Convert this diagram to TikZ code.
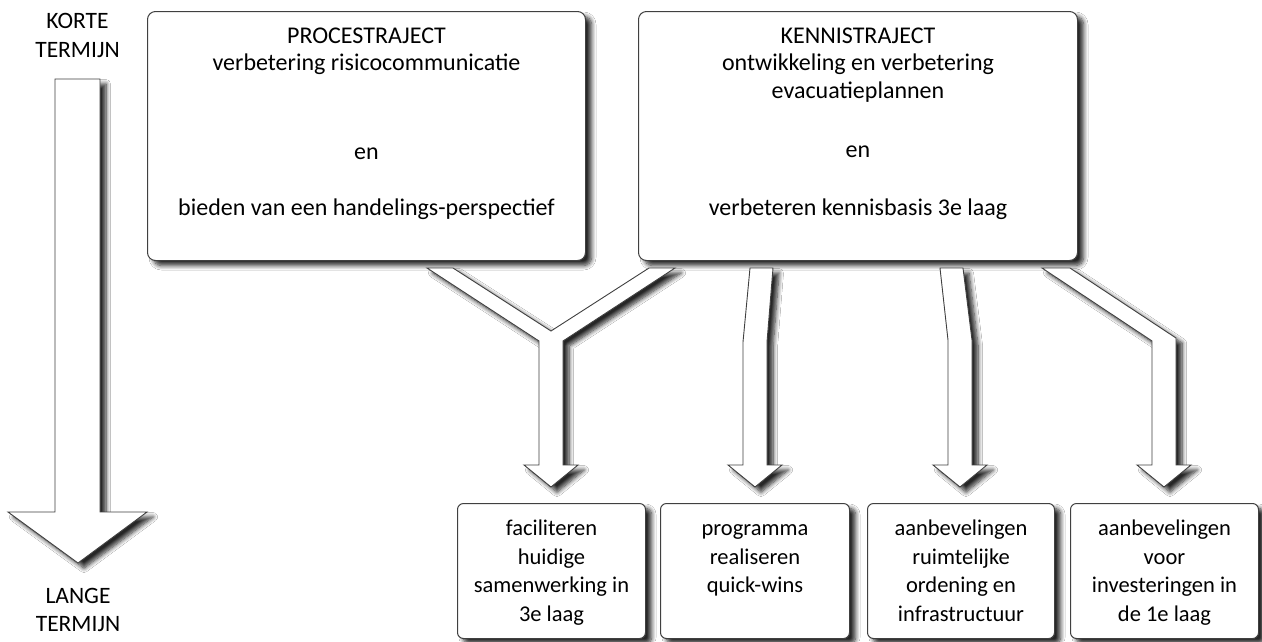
\documentclass[tikz,border=0pt]{standalone}
\usepackage{fontspec}
\setmainfont{Carlito}
\usetikzlibrary{shadows.blur}
\tikzset{
  shad/.style={blur shadow={shadow xshift=6pt, shadow yshift=-5pt, shadow blur radius=4.5pt, shadow blur steps=8, shadow opacity=85}},
  bigbox/.style={draw=black!75, line width=1pt, fill=white, rounded corners=8pt, shad, inner sep=0pt, anchor=north west},
  smallbox/.style={draw=black!75, line width=1pt, fill=white, rounded corners=6pt, shad, inner sep=0pt, anchor=north west},
  blockarrow/.style={draw=black!75, line width=0.9pt, fill=white, shad, line join=miter},
  lbl/.style={font=\fontsize{23.5}{29}\selectfont, inner sep=0pt, text=black, anchor=base}
}
\newcommand{\bigtext}[2]{\parbox[c][249pt][t]{#1}{\centering\fontsize{24}{27}\selectfont\rule{0pt}{32pt}#2}}
\newcommand{\smalltext}[2]{\parbox[c][135pt][t]{#1}{\centering\fontsize{22.5}{28.5}\selectfont\rule{0pt}{32pt}#2}}
\begin{document}
\begin{tikzpicture}[x=1pt,y=-1pt]
\useasboundingbox[fill=white] (0,0) rectangle (1262,641);

% time arrow
\draw[blockarrow] (55,79) -- (100,79) -- (100,512) -- (147,512) -- (78,563) -- (8,512) -- (55,512) -- cycle;
\node[lbl] (k1) at (77.5,28) {KORTE};
\node[lbl] (k2) at (77.5,57) {TERMIJN};
\node[lbl] (l1) at (78,603) {LANGE};
\node[lbl] (l2) at (78,631) {TERMIJN};

% top boxes
\node[bigbox] (proc) at (147,11) {\bigtext{438pt}{PROCESTRAJECT\\ verbetering risicocommunicatie\\[62pt] en\\[29pt] bieden van een handelings-perspectief}};
\node[bigbox] (kennis) at (638,11) {\bigtext{439pt}{KENNISTRAJECT\\ ontwikkeling en verbetering\\[1pt] evacuatieplannen\\[32pt] en\\[31pt] verbeteren kennisbasis 3e laag}};

% bottom boxes
\node[smallbox] (fac) at (457,503) {\smalltext{188pt}{faciliteren\\ huidige\\ samenwerking in\\ 3e laag}};
\node[smallbox] (prog) at (660,503) {\smalltext{189pt}{programma\\ realiseren\\ quick-wins}};
\node[smallbox] (ruimt) at (867,503) {\smalltext{187pt}{aanbevelingen\\ ruimtelijke\\ ordening en\\ infrastructuur}};
\node[smallbox] (inv) at (1070,503) {\smalltext{188pt}{aanbevelingen\\ voor\\ investeringen in\\ de 1e laag}};

% block arrows
\draw[blockarrow] (427,268) -- (453,268) -- (551,331) -- (649,268) -- (675,268) -- (563,341) -- (563,465) -- (578,465) -- (551,487) -- (524,465) -- (539,465) -- (539,341) -- cycle;
\draw[blockarrow] (750,268) -- (773,268) -- (767,342) -- (767,465) -- (782,465) -- (755,487) -- (728,465) -- (743,465) -- (743,342) -- cycle;
\draw[blockarrow] (940,268) -- (963,268) -- (972,340) -- (972,465) -- (987,465) -- (960,487) -- (933,465) -- (948,465) -- (948,340) -- cycle;
\draw[blockarrow] (1042,268) -- (1070,268) -- (1176,338) -- (1176,465) -- (1191,465) -- (1164,487) -- (1137,465) -- (1152,465) -- (1152,341) -- cycle;
\end{tikzpicture}
\end{document}
